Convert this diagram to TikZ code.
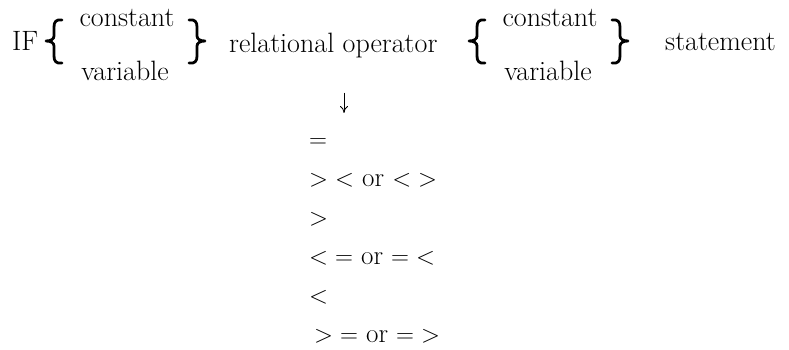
\documentclass[tikz,border=0pt]{standalone}
\usepackage{amsmath}
\usepackage{amssymb}
\usetikzlibrary{arrows.meta}

\begin{document}
\begin{tikzpicture}[x = 1pt, y = -1pt,
	font = \fontsize{28}{33}\selectfont,
	word/.style = {inner sep = 0pt, anchor = base west},
	choice/.style = {inner sep = 0pt, anchor = base},
	oper/.style = {word, font = \fontsize{27}{32}\selectfont},
	brc/.style = {line width = 2.8pt, line cap = round, line join = round},
	pointer/.style = {line width = 0.8pt, -{To[length = 7pt, width = 8pt]}},
]
\useasboundingbox (0,0) rectangle (789,350);

\node[word] (if) at (12,51) {IF};
\node[word] (relop) at (229,53) {relational operator};
\node[word] (stmt) at (665,51) {statement};

% the two brace groups: left brace, choices, right brace
\foreach \g/\x in {A/54, B/477}
	{
		\node[choice] (const\g) at (\x+73,27) {constant};
		\node[choice] (var\g) at (\x+71,81) {variable};
		\foreach \s/\dx in {1/0, -1/143}
			{
				\draw[brc, shift = {(\x+\dx,0)}, xscale = \s]
					(8,20) .. controls (2,19) and (0,22) .. (0,27) -- (0,36)
					.. controls (0,39) and (-3,41) .. (-8,41)
					.. controls (-3,41) and (0,43) .. (0,46) -- (0,56)
					.. controls (0,61) and (2,64) .. (8,63);
			}
	}

% list of operators
\foreach \op/\dx [count = \i] in {{$=$}/0, {$>\;<$ or $<\;>$}/0, {$>$}/0, {$<\;=$ or $=\;<$}/0, {$<$}/0, {$>\;=$ or $=\;>$}/5}
	{
		\node[oper] (op\i) at (309+\dx, 108+39*\i) {\op};
	}

\coordinate (ar) at (344,0);
\draw[pointer, shorten <= 34pt, shorten >= 25pt] (relop.south -| ar) -- (op1.north -| ar);

\end{tikzpicture}
\end{document}
